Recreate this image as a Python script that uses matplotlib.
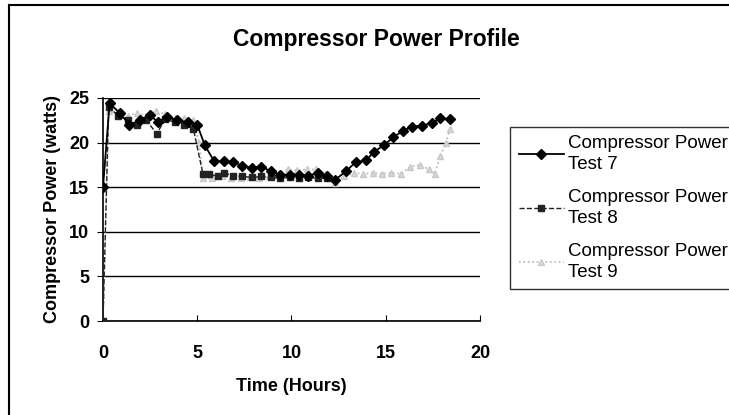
import matplotlib.pyplot as plt

plt.rcParams['font.family'] = ['Liberation Sans', 'DejaVu Sans']

# Test 7 (black diamonds)
t7 = [0, 0.35, 0.9, 1.4, 1.95, 2.5, 2.9, 3.4, 3.9, 4.5, 5.0, 5.4, 5.9, 6.4, 6.9, 7.4,
      7.9, 8.4, 8.9, 9.4, 9.9, 10.4, 10.9, 11.4, 11.9, 12.3, 12.9, 13.4, 13.95, 14.4,
      14.9, 15.4, 15.9, 16.4, 16.9, 17.45, 17.9, 18.4]
p7 = [15, 24.4, 23.3, 22.0, 22.5, 23.1, 22.3, 22.9, 22.5, 22.3, 22.0, 19.7, 17.9, 17.9,
      17.8, 17.4, 17.2, 17.3, 16.8, 16.4, 16.4, 16.4, 16.3, 16.6, 16.2, 15.8, 16.8, 17.8,
      18.0, 19.0, 19.7, 20.6, 21.3, 21.8, 21.9, 22.2, 22.7, 22.6]

# Test 8 (black squares)
t8 = [0, 0.3, 0.8, 1.3, 1.8, 2.3, 2.85, 3.3, 3.8, 4.3, 4.8, 5.3, 5.6, 6.1, 6.4, 6.9,
      7.4, 7.9, 8.4, 8.9, 9.4, 9.9, 10.4, 10.9, 11.4, 11.9]
p8 = [0, 24.0, 23.0, 22.5, 22.0, 22.5, 21.0, 22.6, 22.3, 22.0, 21.5, 16.5, 16.5, 16.2,
      16.6, 16.3, 16.2, 16.1, 16.2, 16.1, 16.0, 16.1, 16.0, 16.1, 16.0, 16.0]

# Test 9 (light grey dotted)
t9 = [0, 0.3, 0.8, 1.3, 1.8, 2.3, 2.8, 3.3, 3.8, 4.3, 4.8, 5.1, 5.3, 5.8, 6.3, 6.8,
      7.3, 7.8, 8.3, 8.8, 9.3, 9.8, 10.3, 10.8, 11.3, 11.8, 12.3, 12.8, 13.3, 13.8,
      14.3, 14.8, 15.3, 15.8, 16.3, 16.8, 17.3, 17.6, 17.9, 18.2, 18.4]
p9 = [0, 23.5, 23.2, 23.0, 23.3, 23.0, 23.5, 23.2, 22.8, 22.8, 22.5, 20.0, 16.0, 16.0,
      16.2, 16.0, 16.0, 16.1, 16.0, 16.2, 16.5, 17.0, 16.9, 17.0, 17.0, 16.5, 15.5, 16.2,
      16.6, 16.5, 16.6, 16.5, 16.6, 16.5, 17.3, 17.5, 17.0, 16.5, 18.5, 20.0, 21.5]

fig = plt.figure(figsize=(7.29, 4.15), dpi=100)
ax = fig.add_axes([0.1413, 0.2265, 0.5171, 0.5374])

ax.plot(t9, p9, color='#b5b5b5', linestyle=':', linewidth=1.2, marker='^',
        markersize=4, markerfacecolor='#d8d8d8', markeredgecolor='#c8c8c8',
        label='Compressor Power\nTest 9', zorder=2)
ax.plot(t8, p8, color='#222222', linestyle='--', linewidth=1.0, marker='s',
        markersize=5, label='Compressor Power\nTest 8', zorder=3)
ax.plot(t7, p7, color='black', linewidth=1.3, marker='D',
        markersize=5.5, label='Compressor Power\nTest 7', zorder=4)

ax.set_xlim(0, 20)
ax.set_ylim(0, 25)
ax.set_xticks([0, 5, 10, 15, 20])
ax.set_yticks([0, 5, 10, 15, 20, 25])
ax.yaxis.grid(True, color='black', linewidth=1.0)
ax.set_axisbelow(True)
for s in ['top', 'right']:
    ax.spines[s].set_visible(False)
ax.spines['left'].set_linewidth(1.2)
ax.spines['bottom'].set_linewidth(1.2)
ax.tick_params(axis='x', direction='in', length=4, labelsize=13, pad=17)
ax.tick_params(axis='y', direction='out', length=4, labelsize=13, pad=6)
for lbl in ax.get_xticklabels() + ax.get_yticklabels():
    lbl.set_fontweight('bold')

ax.set_xlabel('Time (Hours)', fontsize=13, fontweight='bold', labelpad=12)
ax.set_ylabel('Compressor Power (watts)', fontsize=13, fontweight='bold', labelpad=6)
fig.text(0.516, 0.906, 'Compressor Power Profile', ha='center', va='center',
         fontsize=16.5, fontweight='bold')

handles, labels = ax.get_legend_handles_labels()
leg = fig.legend(handles[::-1], labels[::-1], loc='upper left',
                 bbox_to_anchor=(0.70, 0.694), fontsize=13.5, frameon=True,
                 fancybox=False, edgecolor='black', handlelength=2.4,
                 handletextpad=0.25, labelspacing=0.85, borderaxespad=0,
                 borderpad=0.45)
leg.get_frame().set_linewidth(1.0)
for txt in leg.get_texts():
    txt.set_linespacing(1.3)

# outer chart border (left and top visible)
fig.add_artist(plt.Line2D([0.012, 0.012], [0.0, 0.987], color='black', linewidth=1.5))
fig.add_artist(plt.Line2D([0.012, 1.0], [0.987, 0.987], color='black', linewidth=1.5))

fig.savefig('out.png', dpi=100)
